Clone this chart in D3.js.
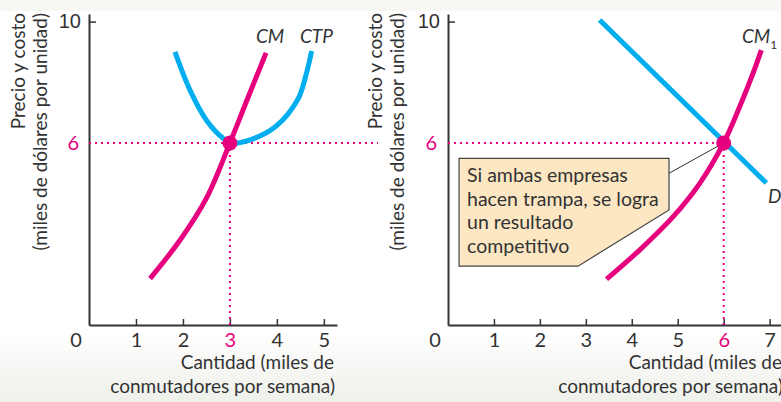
<!DOCTYPE html>
<html>
<head>
<meta charset="utf-8">
<script src="https://cdn.jsdelivr.net/npm/d3@7"></script>
<style>
  body { margin: 0; background: #fff; }
  svg { display: block; font-family: Lato, "Open Sans", sans-serif; }
</style>
</head>
<body>
<div id="chart"></div>
<script>
// Données
const xTicksLeft = [1, 2, 3, 4, 5];
const xTicksRight = [1, 2, 3, 4, 5, 6, 7];
const yTicks = [10];
const equilibriumLeft = { q: 3, p: 6 };
const equilibriumRight = { q: 6, p: 6 };

// courbe CM (gauche)
const cmLeft = [[1.3, 1.53], [1.94, 2.8], [2.5, 4.18], [3.0, 6.0], [3.36, 7.4], [3.77, 8.97]];
// courbe CTP (gauche)
const ctpLeft = [[1.83, 9.0], [2.15, 7.74], [2.5, 6.75], [2.86, 6.15], [3.05, 6.0], [3.43, 6.1], [3.98, 6.55], [4.45, 7.45], [4.62, 8.24], [4.74, 9.03]];
// courbe CM1 (droite)
const cmRight = [[3.45, 1.51], [4.17, 2.47], [4.9, 3.57], [5.48, 4.67], [6.0, 6.0], [6.35, 7.2], [6.64, 8.3], [6.82, 9.06]];
// demande D (droite)
const demandRight = [[3.3, 10.05], [6.93, 4.68]];

const callout = ["Si ambas empresas", "hacen trampa, se logra", "un resultado", "competitivo"];

const width = 781;
const height = 402;
const pink = "#e6007e";
const blue = "#00aeef";
const ink = "#333";

const svg = d3.select("#chart").append("svg")
  .attr("width", width)
  .attr("height", height);

// fond
const defs = svg.append("defs");
const grad = defs.append("linearGradient").attr("id", "bottomGrad")
  .attr("x1", 0).attr("y1", 0).attr("x2", 0).attr("y2", 1);
grad.append("stop").attr("offset", "0%").attr("stop-color", "#ffffff");
grad.append("stop").attr("offset", "100%").attr("stop-color", "#eef0ea");
svg.append("rect").attr("width", width).attr("height", height).attr("fill", "#fff");
svg.append("rect").attr("width", width).attr("height", 11).attr("fill", "#f7f7f3");
svg.append("rect").attr("y", 332).attr("width", width).attr("height", height - 332).attr("fill", "url(#bottomGrad)");

// échelles
const y = d3.scaleLinear().domain([0, 10.25]).range([325, 14]);
const xL = d3.scaleLinear().domain([0, 5.28]).range([89, 337]);
const xR = d3.scaleLinear().domain([0, 7.4]).range([448, 788]);

const line = (x) => d3.line().x((d) => x(d[0])).y((d) => y(d[1])).curve(d3.curveCatmullRom.alpha(0.5));

function drawPanel(x, ticks, eq, opts) {
  const g = svg.append("g");

  // axe X
  const xAxis = g.append("g")
    .attr("transform", "translate(0," + y(0) + ")")
    .call(d3.axisBottom(x).tickValues(ticks).tickFormat(d3.format("d"))
      .tickSizeInner(-6).tickSizeOuter(0).tickPadding(8));
  xAxis.select(".domain").attr("stroke", ink).attr("stroke-width", 2);
  xAxis.selectAll(".tick line").attr("stroke", ink).attr("stroke-width", 1.5);
  xAxis.selectAll(".tick text")
    .attr("font-size", 20)
    .attr("font-family", "Lato, sans-serif")
    .attr("fill", (d) => (d === eq.q ? pink : ink));
  g.append("text")
    .attr("x", x(0) - 13).attr("y", y(0) + 22)
    .attr("text-anchor", "middle").attr("font-size", 20).attr("fill", ink)
    .text("0");

  // axe Y
  const yAxis = g.append("g")
    .attr("transform", "translate(" + x(0) + ",0)")
    .call(d3.axisLeft(y).tickValues(yTicks).tickSizeInner(-7).tickSizeOuter(0).tickPadding(8));
  yAxis.select(".domain").attr("stroke", ink).attr("stroke-width", 2);
  yAxis.selectAll(".tick line").attr("stroke", ink).attr("stroke-width", 1.5);
  yAxis.selectAll(".tick text").attr("font-size", 20).attr("fill", ink);
  g.append("text")
    .attr("x", x(0) - 8 - opts.yLabGap).attr("y", y(eq.p)).attr("dy", "0.35em")
    .attr("text-anchor", "end").attr("font-size", 20).attr("fill", pink)
    .text(eq.p);

  // titre axe Y (deux lignes)
  const yt = g.append("text")
    .attr("transform", "translate(0,13) rotate(-90)")
    .attr("text-anchor", "end").attr("font-size", 19).attr("fill", ink);
  yt.append("tspan").attr("x", 0).attr("y", opts.yTitleX[0]).text("Precio y costo");
  yt.append("tspan").attr("x", 0).attr("y", opts.yTitleX[1]).text("(miles de dólares por unidad)");

  // titre axe X
  g.append("text")
    .attr("x", opts.xTitleRight).attr("y", 369)
    .attr("text-anchor", "end").attr("font-size", 19).attr("fill", ink)
    .text("Cantidad (miles de");
  g.append("text")
    .attr("x", opts.xTitleRight + 1).attr("y", 393)
    .attr("text-anchor", "end").attr("font-size", 19).attr("fill", ink)
    .text("conmutadores por semana)");

  // pointillés
  g.append("line")
    .attr("x1", x(0)).attr("x2", opts.hDotEnd)
    .attr("y1", y(eq.p)).attr("y2", y(eq.p))
    .attr("stroke", pink).attr("stroke-width", 2).attr("stroke-dasharray", "2,4");
  g.append("line")
    .attr("x1", x(eq.q)).attr("x2", x(eq.q))
    .attr("y1", y(eq.p)).attr("y2", y(0))
    .attr("stroke", pink).attr("stroke-width", 2).attr("stroke-dasharray", "2,4");

  return g;
}

// panneau gauche
const gL = drawPanel(xL, xTicksLeft, equilibriumLeft, {
  yLabGap: 2, yTitleX: [25, 46.5], xTitleRight: 334, hDotEnd: 378
});
gL.append("path").datum(ctpLeft).attr("d", line(xL))
  .attr("fill", "none").attr("stroke", blue).attr("stroke-width", 5);
gL.append("path").datum(cmLeft).attr("d", line(xL))
  .attr("fill", "none").attr("stroke", pink).attr("stroke-width", 5);
gL.append("circle")
  .attr("cx", xL(equilibriumLeft.q)).attr("cy", y(equilibriumLeft.p)).attr("r", 7.5)
  .attr("fill", pink);
gL.append("text").attr("x", 256).attr("y", 43)
  .attr("font-size", 19).attr("font-style", "italic").attr("fill", ink).text("CM");
gL.append("text").attr("x", 300).attr("y", 43)
  .attr("font-size", 19).attr("font-style", "italic").attr("fill", ink).text("CTP");

// panneau droit
const gR = drawPanel(xR, xTicksRight, equilibriumRight, {
  yLabGap: 3, yTitleX: [382, 404], xTitleRight: 782, hDotEnd: xR(equilibriumRight.q)
});

// encadré
const box = [[0.24, 5.49], [4.81, 5.49], [4.81, 3.79], [2.83, 1.94], [0.24, 1.94]];
gR.append("line")
  .attr("x1", xR(4.81)).attr("y1", y(5.0))
  .attr("x2", xR(equilibriumRight.q)).attr("y2", y(equilibriumRight.p))
  .attr("stroke", ink).attr("stroke-width", 1);
gR.append("path")
  .attr("d", d3.line().x((d) => xR(d[0])).y((d) => y(d[1]))(box) + "Z")
  .attr("fill", "#fde7c3").attr("stroke", "#444").attr("stroke-width", 1.2);
gR.selectAll(".callout").data(callout).enter().append("text")
  .attr("class", "callout")
  .attr("x", xR(0.24) + 8)
  .attr("y", (d, i) => 182 + i * 23.6)
  .attr("font-size", 19.5).attr("fill", ink)
  .text((d) => d);

gR.append("path").datum(demandRight).attr("d", line(xR))
  .attr("fill", "none").attr("stroke", blue).attr("stroke-width", 5);
gR.append("path").datum(cmRight).attr("d", line(xR))
  .attr("fill", "none").attr("stroke", pink).attr("stroke-width", 5);
gR.append("circle")
  .attr("cx", xR(equilibriumRight.q)).attr("cy", y(equilibriumRight.p)).attr("r", 7.5)
  .attr("fill", pink);
const cmLab = gR.append("text").attr("x", 742).attr("y", 43)
  .attr("font-size", 19).attr("font-style", "italic").attr("fill", ink);
cmLab.append("tspan").text("CM");
cmLab.append("tspan").attr("font-size", 12).attr("font-style", "normal").attr("dy", 6).text("1");
gR.append("text").attr("x", 768).attr("y", 203)
  .attr("font-size", 19).attr("font-style", "italic").attr("fill", ink).text("D");
</script>
</body>
</html>
